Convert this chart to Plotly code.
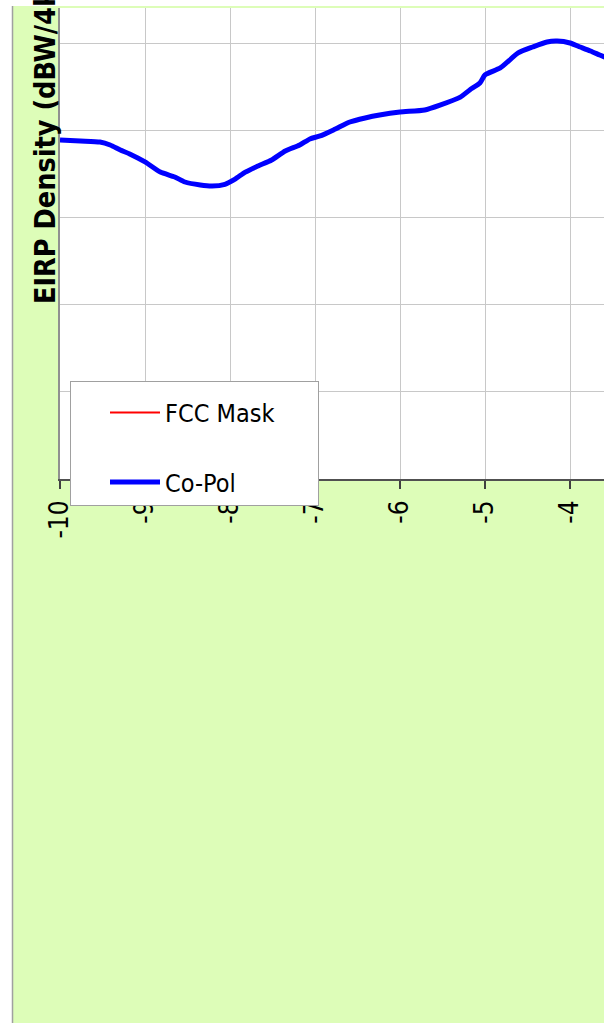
import plotly.graph_objects as go

# ---------------- data ----------------
copol_x = [-10.0, -9.76, -9.53, -9.41, -9.29, -9.18, -9.0, -8.82, -8.65, -8.53,
           -8.35, -8.21, -8.06, -7.94, -7.82, -7.67, -7.51, -7.35, -7.18, -7.06,
           -6.94, -6.76, -6.59, -6.41, -6.24, -6.0, -5.71, -5.53, -5.29, -5.18,
           -5.06, -5.0, -4.82, -4.61, -4.44, -4.27, -4.15, -4.0, -3.88, -3.76,
           -3.65, -3.5]
copol_y = [-15.56, -15.62, -15.68, -15.85, -16.14, -16.36, -16.82, -17.40, -17.68, -17.97,
           -18.14, -18.20, -18.10, -17.80, -17.40, -17.05, -16.71, -16.19, -15.85, -15.50,
           -15.33, -14.93, -14.53, -14.30, -14.13, -13.96, -13.84, -13.56, -13.10, -12.69,
           -12.30, -11.83, -11.43, -10.57, -10.23, -9.94, -9.89, -10.00, -10.23, -10.46,
           -10.69, -11.00]

mask_x = [-10, -9, -8, -7, -6, -5, -4, -3.5]
mask_y = [-5.0, -3.9, -2.6, -1.1, 0.6, 2.5, 4.9, 6.4]

x_ticks = [-10, -9, -8, -7, -6, -5, -4]
x_tick_labels = ["-10", "-9", "-8", "-7", "-6", "-5", "-4"]
y_title = "EIRP Density (dBW/4kHz)"

# ---------------- layout geometry ----------------
W, H = 604, 1023
L, R, T, B = 60, 0, 8, 544
PW, PH = W - L - R, H - T - B


def px_x(p):
    return (p - L) / PW


def px_y(p):
    return (H - B - p) / PH


GREEN = "#DDFDB8"
FONT = "DejaVu Sans Condensed, Liberation Sans, DejaVu Sans"

fig = go.Figure()
fig.add_trace(go.Scatter(x=mask_x, y=mask_y, mode="lines", name="FCC Mask",
                         line=dict(color="#FF0000", width=2),
                         legendgroup="a"))
fig.add_trace(go.Scatter(x=copol_x, y=copol_y, mode="lines", name="Co-Pol",
                         line=dict(color="#0000FF", width=5, shape="spline", smoothing=0.6),
                         legendgroup="b"))

fig.update_layout(
    width=W, height=H,
    margin=dict(l=L, r=R, t=T, b=B, autoexpand=False),
    paper_bgcolor=GREEN,
    plot_bgcolor="white",
    font=dict(family=FONT, color="black"),
    showlegend=True,
    legend=dict(
        x=px_x(70), y=px_y(381), xanchor="left", yanchor="top",
        bgcolor="white", bordercolor="#A0A0A0", borderwidth=1,
        font=dict(family=FONT, size=25, color="black"),
        itemwidth=50, indentation=34, tracegroupgap=34,
        title=dict(text="\u2003" * 45, font=dict(size=6)),
    ),
    xaxis=dict(
        range=[-10, -10 + PW / 85.0],
        tickvals=x_ticks, ticktext=x_tick_labels,
        tickangle=-90, ticks="outside", ticklen=8, tickwidth=1.5, tickcolor="#404040",
        tickfont=dict(family=FONT, size=26, color="black"),
        showgrid=True, gridcolor="#C8C8C8", gridwidth=1,
        showline=True, linecolor="#505050", linewidth=2,
        zeroline=False, ticklabelstandoff=1,
    ),
    yaxis=dict(
        range=[-35, -35 + (H - B - T) / 17.44],
        tickvals=[-35, -30, -25, -20, -15, -10],
        showticklabels=False,
        showgrid=True, gridcolor="#C8C8C8", gridwidth=1,
        showline=True, linecolor="#909090", linewidth=2,
        zeroline=False,
    ),
    shapes=[
        dict(type="rect", xref="paper", yref="paper",
             x0=px_x(-5), x1=px_x(12), y0=px_y(H + 5), y1=px_y(-5),
             fillcolor="white", line=dict(width=0), layer="below"),
        dict(type="rect", xref="paper", yref="paper",
             x0=px_x(-5), x1=px_x(W + 5), y0=px_y(6), y1=px_y(-5),
             fillcolor="white", line=dict(width=0), layer="below"),
        dict(type="line", xref="paper", yref="paper",
             x0=px_x(12.5), x1=px_x(12.5), y0=px_y(H + 5), y1=px_y(6),
             line=dict(color="#A0A0A0", width=1.5), layer="below"),
    ],
    annotations=[
        dict(text=y_title, xref="paper", yref="paper",
             x=px_x(45), y=px_y(306), xanchor="center", yanchor="bottom",
             textangle=-90, showarrow=False,
             font=dict(family=FONT, size=28.5, color="black", weight="bold")),
    ],
)

fig.write_html(
    "out.html",
    config={"displayModeBar": False},
    post_script="document.body.style.margin='0';document.body.style.overflow='hidden';",
)
